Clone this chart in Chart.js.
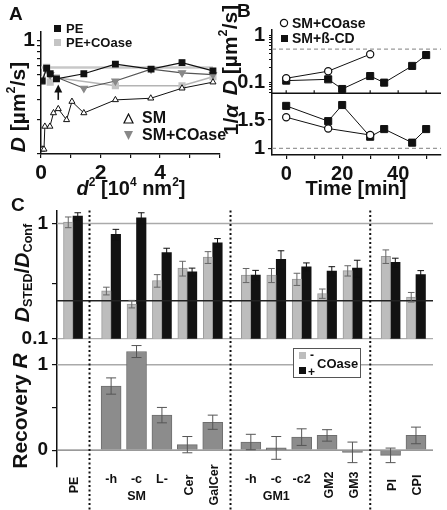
<!DOCTYPE html>
<html>
<head>
<meta charset="utf-8">
<script src="https://cdn.jsdelivr.net/npm/chart.js"></script>
<style>
  body { margin: 0; background: #fff; }
  #fig { position: relative; width: 447px; height: 510px; overflow: hidden;
         font-family: 'Liberation Sans', Arial, sans-serif; font-weight: bold; color: #111; }
  canvas { position: absolute; }
  .t { position: absolute; line-height: 1; white-space: nowrap; }
  .rot { transform: translate(-50%, -50%) rotate(-90deg); }
  .ctr { transform: translateX(-50%); }
  .sq { position: absolute; width: 7px; height: 7px; }
  .mk { position: absolute; }
  sup, sub { font-size: 0.6em; line-height: 0; }
  sup { vertical-align: 0.75em; }
  sub { vertical-align: -0.3em; }
</style>
</head>
<body>
<div id="fig">
  <canvas id="chartA" width="225" height="200" style="left:0;top:0"></canvas>
  <canvas id="chartB" width="217" height="200" style="left:230px;top:0"></canvas>
  <canvas id="chartC" width="447" height="315" style="left:0;top:195px"></canvas>

  <div class="t" style="left:9px;top:4px;font-size:19px">A</div>
  <div class="t" style="left:237px;top:1px;font-size:19px">B</div>
  <div class="t" style="left:11px;top:195px;font-size:19px">C</div>

  <!-- legend A -->
  <div class="sq" style="left:54px;top:25px;background:#111"></div>
  <div class="t" style="left:66px;top:22px;font-size:13px">PE</div>
  <div class="sq" style="left:54px;top:39px;background:#c4c4c4"></div>
  <div class="t" style="left:66px;top:36px;font-size:13px">PE+COase</div>
  <svg class="mk" style="left:123px;top:113px" width="11" height="11"><polygon points="5.5,1 10,10 1,10" fill="#fff" stroke="#111" stroke-width="1.2"/></svg>
  <div class="t" style="left:142px;top:110px;font-size:16px">SM</div>
  <svg class="mk" style="left:123px;top:130px" width="11" height="11"><polygon points="1,1 10,1 5.5,10" fill="#888"/></svg>
  <div class="t" style="left:142px;top:127px;font-size:16px">SM+COase</div>

  <!-- legend B -->
  <svg class="mk" style="left:279px;top:18px" width="10" height="10"><circle cx="5" cy="5" r="3.6" fill="#fff" stroke="#111" stroke-width="1.2"/></svg>
  <div class="t" style="left:292px;top:16px;font-size:14px">SM+COase</div>
  <div class="sq" style="left:280.5px;top:34.5px;background:#111"></div>
  <div class="t" style="left:292px;top:31px;font-size:14px">SM+ß-CD</div>

  <!-- axis titles -->
  <div class="t rot" style="left:17px;top:107px;font-size:21px"><i>D</i> [µm<sup>2</sup>/s]</div>
  <div class="t ctr" style="left:131px;top:178px;font-size:20px"><i>d</i><sup>2</sup> [10<sup>4</sup> nm<sup>2</sup>]</div>
  <div class="t rot" style="left:229px;top:50px;font-size:21px"><i>D</i> [µm<sup>2</sup>/s]</div>
  <div class="t rot" style="left:230px;top:120px;font-size:21px">1/<i>α</i></div>
  <div class="t ctr" style="left:356px;top:178px;font-size:20px">Time [min]</div>
  <div class="t rot" style="left:21px;top:273px;font-size:21px"><i>D</i><sub>STED</sub>/<i>D</i><sub>Conf</sub></div>
  <div class="t rot" style="left:19px;top:411px;font-size:21px">Recovery <i>R</i></div>

  <!-- legend C -->
  <div style="position:absolute;left:293px;top:348px;width:66px;height:28px;border:1px solid #555;background:#fff"></div>
  <div class="sq" style="left:299px;top:352px;background:#bdbdbd"></div>
  <div class="sq" style="left:299px;top:367px;background:#111"></div>
  <div class="t" style="left:310px;top:349px;font-size:12px">-</div>
  <div class="t" style="left:308px;top:366px;font-size:12px">+</div>
  <div class="t" style="left:317px;top:357px;font-size:13px">COase</div>
</div>

<script>
// ---- panel A: D versus d^2 ----
const aPeX = [0.04, 0.19, 0.31, 0.52, 1.44, 2.5, 3.7, 4.74, 5.78];
const aPeY = [0.44, 0.57, 0.51, 0.46, 0.51, 0.62, 0.56, 0.64, 0.54];
const aPeCoX = [0.04, 0.19, 0.31, 0.52, 2.5, 4.74, 5.78];
const aPeCoY = [0.45, 0.58, 0.43, 0.47, 0.4, 0.4, 0.48];
const aSmX = [0.04, 0.1, 0.13, 0.3, 0.42, 0.58, 0.86, 1.04, 1.44, 2.5, 3.69, 4.74, 5.78];
const aSmY = [0.11, 0.11, 0.175, 0.175, 0.23, 0.25, 0.2, 0.29, 0.23, 0.3, 0.31, 0.38, 0.43];
const aSmCoX = [0.31, 1.44, 2.5, 3.7, 4.74, 5.78];
const aSmCoY = [0.5, 0.38, 0.44, 0.56, 0.52, 0.5];
const aGuide = [0, 5.78, 0.58];          // grey guide: from x, to x, at D
const aArrow = [0.58, 0.3, 0.41];        // arrow: at x, from D, to D
const aXTicks = [0, 1, 2, 3, 4, 5, 6];
const aXLabels = [0, 2, 4];
const aYTicks = [0.1, 0.2, 0.3, 0.4, 0.5, 0.6, 0.7, 0.8, 0.9, 1];

// ---- panel B: D and 1/alpha versus time ----
const bTimeCo = [0, 15, 30];
const bDCo = [0.12, 0.17, 0.39];
const bAlphaCo = [1.55, 1.35, 1.235];
const bTimeCd = [0, 15, 20, 30, 35, 45, 50];
const bDCd = [0.107, 0.114, 0.071, 0.134, 0.097, 0.22, 0.375];
const bAlphaCd = [1.75, 1.48, 1.765, 1.205, 1.34, 1.1, 1.34];
const bDRef = 0.5;
const bAlphaRef = 1;
const bXTicks = [0, 10, 20, 30, 40, 50];
const bXLabels = [0, 20, 40];
const bDTicks = [0.06, 0.07, 0.08, 0.09, 0.1, 0.2, 0.3, 0.4, 0.5, 0.6, 0.7, 0.8, 0.9, 1];
const bAlphaTicks = [1, 1.5];

// ---- panel C: D_STED/D_Conf and recovery ----
const cCats = ['PE', '-h', '-c', 'L-', 'Cer', 'GalCer', '-h', '-c', '-c2', 'GM2', 'GM3', 'PI', 'CPI'];
const cGroup = ['', 'SM', 'SM', 'SM', '', '', 'GM1', 'GM1', 'GM1', '', '', '', ''];
const cPos = [0, 1.5, 2.5, 3.5, 4.5, 5.5, 7, 8, 9, 10, 11, 12.5, 13.5];
const cMinus = [1.03, 0.26, 0.20, 0.32, 0.41, 0.51, 0.357, 0.357, 0.33, 0.247, 0.39, 0.52, 0.23];
const cMinusErr = [0.11, 0.02, 0.015, 0.04, 0.06, 0.06, 0.05, 0.05, 0.04, 0.023, 0.04, 0.07, 0.022];
const cPlus = [1.16, 0.805, 1.12, 0.56, 0.38, 0.68, 0.357, 0.49, 0.42, 0.387, 0.41, 0.46, 0.36];
const cPlusErr = [0.08, 0.085, 0.12, 0.05, 0.03, 0.06, 0.035, 0.09, 0.035, 0.035, 0.07, 0.04, 0.03];
const cRec = [null, 0.75, 1.153, 0.41, 0.065, 0.327, 0.096, 0.027, 0.153, 0.173, -0.025, -0.06, 0.173];
const cRecErr = [null, 0.095, 0.07, 0.09, 0.095, 0.083, 0.09, 0.133, 0.097, 0.067, 0.12, 0.085, 0.097];
const cDividers = [0.65, 6.2, 11.7];
const cRefTop = 0.214;
const cTopTicks = [0.1, 0.3, 1];
const cBotTicks = [0, 0.5, 1];

const fontFam = "'Liberation Sans', Arial, sans-serif";
Chart.defaults.font.family = fontFam;
Chart.defaults.font.weight = 'bold';
Chart.defaults.color = '#111';
Chart.defaults.animation = false;

function pts(xs, ys) {
    return xs.map((x, i) => ({ x: x, y: ys[i] }));
}

function hline(ctx, x0, x1, y, color, width, dash) {
    ctx.save();
    ctx.strokeStyle = color;
    ctx.lineWidth = width;
    ctx.setLineDash(dash || []);
    ctx.beginPath();
    ctx.moveTo(x0, y);
    ctx.lineTo(x1, y);
    ctx.stroke();
    ctx.restore();
}

// common axis look: black line, short outward ticks, no grid
function axis(extra) {
    return Object.assign({
        grid: { drawOnChartArea: false, tickLength: 4, color: '#111', lineWidth: 1.2 },
        border: { color: '#111', width: 1.5 }
    }, extra);
}

function fixTicks(list) {
    return s => { s.ticks = list.map(v => ({ value: v })); };
}

// ---------- A ----------
const aExtras = {
    id: 'aExtras',
    beforeDatasetsDraw(chart) {
        const { ctx, scales: { x, y } } = chart;
        hline(ctx, x.getPixelForValue(aGuide[0]), x.getPixelForValue(aGuide[1]), y.getPixelForValue(aGuide[2]), '#c8c8c8', 2.5);
    },
    afterDatasetsDraw(chart) {
        const { ctx, scales: { x, y } } = chart;
        const px = x.getPixelForValue(aArrow[0]);
        const y0 = y.getPixelForValue(aArrow[1]);
        const y1 = y.getPixelForValue(aArrow[2]);
        ctx.save();
        ctx.strokeStyle = '#111';
        ctx.fillStyle = '#111';
        ctx.lineWidth = 1.6;
        ctx.beginPath();
        ctx.moveTo(px, y0);
        ctx.lineTo(px, y1 + 5);
        ctx.stroke();
        ctx.beginPath();
        ctx.moveTo(px, y1);
        ctx.lineTo(px - 4, y1 + 8);
        ctx.lineTo(px + 4, y1 + 8);
        ctx.closePath();
        ctx.fill();
        ctx.restore();
    }
};

new Chart(document.getElementById('chartA'), {
    type: 'scatter',
    data: {
        datasets: [
            { label: 'PE', data: pts(aPeX, aPeY), showLine: true, borderColor: '#111', borderWidth: 1.2,
              pointStyle: 'rect', pointRadius: 4, pointBackgroundColor: '#111', pointBorderColor: '#111' },
            { label: 'SM', data: pts(aSmX, aSmY), showLine: true, borderColor: '#111', borderWidth: 1,
              pointStyle: 'triangle', pointRadius: 3.5, pointBackgroundColor: '#fff', pointBorderColor: '#111', pointBorderWidth: 1 },
            { label: 'SM+COase', data: pts(aSmCoX, aSmCoY), showLine: true, borderColor: '#555', borderWidth: 1.2,
              pointStyle: 'triangle', pointRotation: 180, pointRadius: 4, pointBackgroundColor: '#888', pointBorderColor: '#888' },
            { label: 'PE+COase', data: pts(aPeCoX, aPeCoY), showLine: true, borderColor: '#b4b4b4', borderWidth: 1.5,
              pointStyle: 'rect', pointRadius: 4, pointBackgroundColor: '#c4c4c4', pointBorderColor: '#c4c4c4' }
        ]
    },
    options: {
        responsive: false,
        layout: { padding: { top: 32, right: 4, left: 0, bottom: 0 } },
        plugins: { legend: { display: false }, tooltip: { enabled: false } },
        scales: {
            x: axis({
                type: 'linear', min: 0, max: 6,
                afterFit: s => { s.height = 46; },
                afterBuildTicks: fixTicks(aXTicks),
                ticks: { autoSkip: false, maxRotation: 0, padding: 3, font: { size: 21 },
                         callback: v => aXLabels.includes(v) ? String(v) : '' }
            }),
            y: axis({
                type: 'logarithmic', min: 0.1, max: 1.19,
                afterFit: s => { s.width = 41; },
                afterBuildTicks: fixTicks(aYTicks),
                ticks: { autoSkip: false, padding: 2, font: { size: 21 },
                         callback: v => v === 1 ? '1' : '' }
            })
        }
    },
    plugins: [aExtras]
});

// ---------- B ----------
const bExtras = {
    id: 'bExtras',
    beforeDatasetsDraw(chart) {
        const { ctx, chartArea: { left, right }, scales: { x, yD, yA } } = chart;
        hline(ctx, left, right, yD.getPixelForValue(bDRef), '#999', 1.3, [4, 3]);
        hline(ctx, left, right, yA.getPixelForValue(bAlphaRef), '#999', 1.3, [4, 3]);
        hline(ctx, left, right, yD.bottom, '#111', 1.5);
        ctx.save();
        ctx.strokeStyle = '#111';
        ctx.lineWidth = 1.2;
        bXTicks.forEach(t => {
            const px = x.getPixelForValue(t);
            ctx.beginPath();
            ctx.moveTo(px, yD.bottom);
            ctx.lineTo(px, yD.bottom - 3);
            ctx.stroke();
        });
        ctx.restore();
    }
};

const circleStyle = { showLine: true, borderColor: '#111', borderWidth: 1, pointStyle: 'circle', pointRadius: 3.6,
                      pointBackgroundColor: '#fff', pointBorderColor: '#111', pointBorderWidth: 1.2 };
const squareStyle = { showLine: true, borderColor: '#111', borderWidth: 1, pointStyle: 'rect', pointRadius: 5,
                      pointBackgroundColor: '#111', pointBorderColor: '#111' };

new Chart(document.getElementById('chartB'), {
    type: 'scatter',
    data: {
        datasets: [
            Object.assign({ label: 'SM+COase', data: pts(bTimeCo, bDCo), yAxisID: 'yD' }, circleStyle),
            Object.assign({ label: 'SM+COase', data: pts(bTimeCo, bAlphaCo), yAxisID: 'yA' }, circleStyle),
            Object.assign({ label: 'SM+ß-CD', data: pts(bTimeCd, bDCd), yAxisID: 'yD' }, squareStyle),
            Object.assign({ label: 'SM+ß-CD', data: pts(bTimeCd, bAlphaCd), yAxisID: 'yA' }, squareStyle)
        ]
    },
    options: {
        responsive: false,
        layout: { padding: { top: 30, right: 0, left: 0, bottom: 0 } },
        plugins: { legend: { display: false }, tooltip: { enabled: false } },
        scales: {
            x: axis({
                type: 'linear', min: -5.07, max: 55.3,
                afterFit: s => { s.height = 45; },
                afterBuildTicks: fixTicks(bXTicks),
                ticks: { autoSkip: false, maxRotation: 0, padding: 3.5, font: { size: 20 },
                         callback: v => bXLabels.includes(v) ? String(v) : '' }
            }),
            yA: axis({
                type: 'linear', position: 'left', stack: 'b', stackWeight: 61.7, min: 0.882, max: 1.972,
                afterFit: s => { s.width = 42; },
                afterBuildTicks: fixTicks(bAlphaTicks),
                ticks: { autoSkip: false, padding: 3, font: { size: 20 }, callback: v => String(v) }
            }),
            yD: axis({
                type: 'logarithmic', position: 'left', stack: 'b', stackWeight: 63.3, min: 0.0575, max: 1.28,
                afterFit: s => { s.width = 42; },
                afterBuildTicks: fixTicks(bDTicks),
                grid: { drawOnChartArea: false, tickLength: 3, color: '#111', lineWidth: 1 },
                ticks: { autoSkip: false, padding: 4, font: { size: 20 },
                         callback: v => v === 1 ? '1' : (v === 0.1 ? '0.1' : '') }
            })
        }
    },
    plugins: [bExtras]
});

// ---------- C ----------
const errorBars = {
    id: 'errorBars',
    afterDatasetsDraw(chart) {
        const ctx = chart.ctx;
        chart.data.datasets.forEach((ds, di) => {
            if (!ds.errors) return;
            const meta = chart.getDatasetMeta(di);
            const ys = chart.scales[ds.yAxisID];
            meta.data.forEach((bar, i) => {
                const v = ds.data[i].y;
                const e = ds.errors[i];
                if (v === null || e === null) return;
                const x = bar.x;
                const hi = ys.getPixelForValue(v + e);
                const lo = ys.getPixelForValue(Math.max(v - e, ys.min));
                const w = ds.capHalf;
                ctx.save();
                ctx.strokeStyle = ds.errorColor;
                ctx.lineWidth = 1;
                ctx.beginPath();
                ctx.moveTo(x, lo); ctx.lineTo(x, hi);
                ctx.moveTo(x - w, hi); ctx.lineTo(x + w, hi);
                ctx.moveTo(x - w, lo); ctx.lineTo(x + w, lo);
                ctx.stroke();
                ctx.restore();
            });
        });
    }
};

const cExtras = {
    id: 'cExtras',
    beforeDatasetsDraw(chart) {
        const { ctx, chartArea: { left, right }, scales: { yTop, yBot } } = chart;
        hline(ctx, left, right, yTop.getPixelForValue(1), '#aaa', 1.5);
        hline(ctx, left, right, yBot.getPixelForValue(1), '#aaa', 1.5);
        hline(ctx, left, right, yTop.bottom, '#999', 1);
        hline(ctx, left, right, yBot.getPixelForValue(0), '#777', 1.2);
    },
    afterDatasetsDraw(chart) {
        const { ctx, chartArea: { left, right, top }, scales: { x, yTop } } = chart;
        hline(ctx, left, right, yTop.getPixelForValue(cRefTop), '#222', 1.5);
        ctx.save();
        ctx.strokeStyle = '#111';
        ctx.lineWidth = 2;
        ctx.setLineDash([2, 2.5]);
        cDividers.forEach(d => {
            const px = x.getPixelForValue(d);
            ctx.beginPath();
            ctx.moveTo(px, top);
            ctx.lineTo(px, chart.height);
            ctx.stroke();
        });
        ctx.restore();
    },
    afterDraw(chart) {
        const { ctx, chartArea: { bottom }, scales: { x } } = chart;
        ctx.save();
        ctx.fillStyle = '#111';
        ctx.font = 'bold 12.5px ' + fontFam;
        ctx.textAlign = 'center';
        ctx.textBaseline = 'middle';
        cCats.forEach((c, i) => {
            const px = x.getPixelForValue(cPos[i]);
            if (cGroup[i]) {
                ctx.fillText(c, px, bottom + 13);
            } else {
                ctx.save();
                ctx.translate(px + 2, bottom + 18);
                ctx.rotate(-Math.PI / 2);
                ctx.fillText(c, 0, 0);
                ctx.restore();
            }
        });
        [...new Set(cGroup.filter(g => g))].forEach(g => {
            const members = cPos.filter((p, i) => cGroup[i] === g);
            const mid = members.reduce((a, b) => a + b, 0) / members.length;
            ctx.fillText(g, x.getPixelForValue(mid), bottom + 30);
        });
        ctx.restore();
    }
};

new Chart(document.getElementById('chartC'), {
    type: 'bar',
    data: {
        datasets: [
            { label: '- COase', data: pts(cPos, cMinus), yAxisID: 'yTop', errors: cMinusErr,
              backgroundColor: '#bdbdbd', borderColor: '#999', borderWidth: 1, barThickness: 9.5,
              errorColor: '#666', capHalf: 3.3 },
            { label: '+ COase', data: pts(cPos, cPlus), yAxisID: 'yTop', errors: cPlusErr,
              backgroundColor: '#121212', borderWidth: 0, barThickness: 9.5,
              errorColor: '#111', capHalf: 3.3 },
            { label: 'Recovery', data: pts(cPos, cRec), yAxisID: 'yBot', errors: cRecErr, grouped: false,
              backgroundColor: '#8c8c8c', borderColor: '#6e6e6e', borderWidth: 1, barThickness: 20,
              errorColor: '#555', capHalf: 5 }
        ]
    },
    options: {
        responsive: false,
        layout: { padding: { top: 11.5, right: 14, left: 0, bottom: 0 } },
        plugins: { legend: { display: false }, tooltip: { enabled: false } },
        scales: {
            x: {
                type: 'linear', min: -0.63, max: 14.17, offset: false,
                afterFit: s => { s.height = 43; },
                grid: { display: false }, border: { display: false }, ticks: { display: false }
            },
            yBot: axis({
                type: 'linear', position: 'left', stack: 'c', stackWeight: 1, min: -0.196, max: 1.303,
                afterFit: s => { s.width = 57; },
                afterBuildTicks: fixTicks(cBotTicks),
                grid: { drawOnChartArea: false, tickLength: 5, color: '#111', lineWidth: 1.2 },
                ticks: { autoSkip: false, padding: 4, font: { size: 19 },
                         callback: v => v === 0.5 ? '' : String(v) }
            }),
            yTop: axis({
                type: 'logarithmic', position: 'left', stack: 'c', stackWeight: 1, min: 0.1, max: 1.3,
                afterFit: s => { s.width = 57; },
                afterBuildTicks: fixTicks(cTopTicks),
                grid: { drawOnChartArea: false, tickLength: 5, color: '#111', lineWidth: 1.2 },
                ticks: { autoSkip: false, padding: 4, font: { size: 19 },
                         callback: v => v === 1 ? '1' : (v === 0.1 ? '0.1' : '') }
            })
        }
    },
    plugins: [cExtras, errorBars]
});
</script>
</body>
